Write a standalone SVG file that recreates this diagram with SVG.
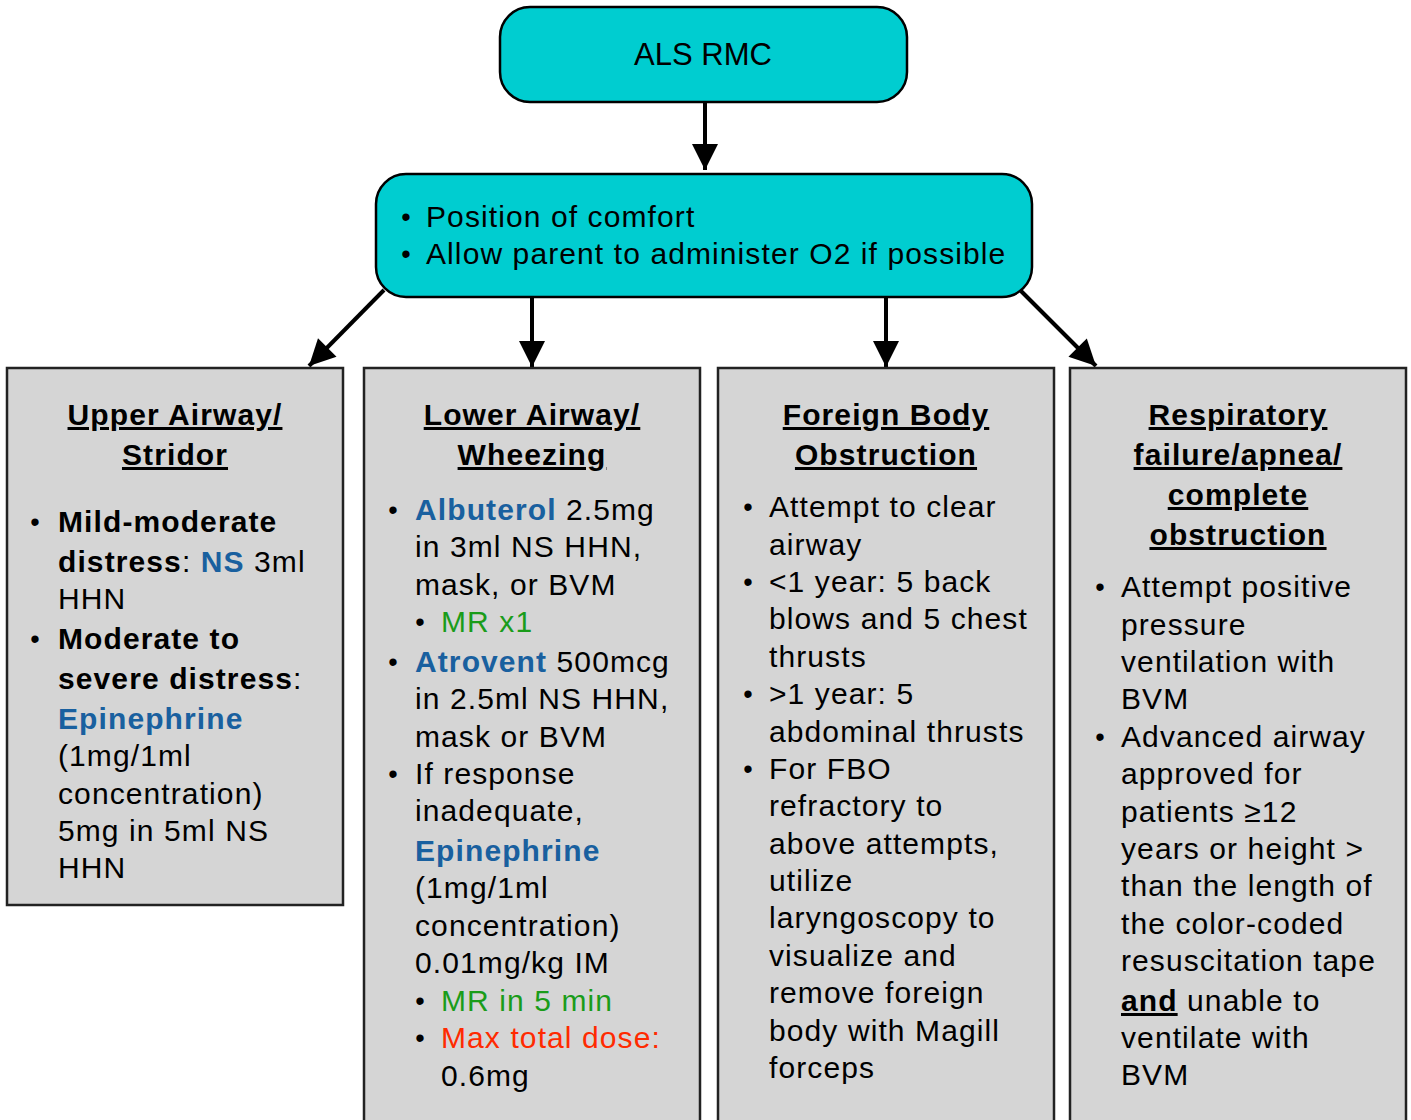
<svg xmlns="http://www.w3.org/2000/svg" width="1411" height="1120" viewBox="0 0 1411 1120">
<style>
text{font-family:"Liberation Sans",Arial,sans-serif;font-size:30px;fill:#000;letter-spacing:1.1px}
.t{font-weight:bold;font-size:30px;text-anchor:middle;text-decoration:underline;letter-spacing:1.1px}
.b{font-weight:bold}
.bl{font-size:27px;text-anchor:middle;letter-spacing:0}
.blue{fill:#19609f;font-weight:bold}
.green{fill:#1a9c1a}
.red{fill:#ff2a00}
.cyan{fill:#00cdd0;stroke:#000;stroke-width:2.5}
.grey{fill:#d5d5d5;stroke:#222;stroke-width:2.5}
.c{stroke:#000;stroke-width:4;fill:none}
</style>
<defs>
<marker id="ah" markerUnits="userSpaceOnUse" markerWidth="30" markerHeight="30" viewBox="0 0 30 30" refX="28" refY="15" orient="auto">
<path d="M2,2 L28,15 L2,28 Z" fill="#000"/>
</marker>
</defs>
<g id="connectors">
<line class="c" x1="705" y1="103" x2="705" y2="170" marker-end="url(#ah)"/>
<line class="c" x1="384" y1="290" x2="309" y2="366" marker-end="url(#ah)"/>
<line class="c" x1="532" y1="298" x2="532" y2="367" marker-end="url(#ah)"/>
<line class="c" x1="886" y1="298" x2="886" y2="367" marker-end="url(#ah)"/>
<line class="c" x1="1021" y1="291" x2="1096" y2="366" marker-end="url(#ah)"/>
</g>
<g id="als-rmc">
<rect class="cyan" x="500" y="7" width="407" height="95" rx="30"/>
<text x="703" y="65" text-anchor="middle" style="font-size:31px;letter-spacing:0">ALS RMC</text>
</g>
<g id="comfort">
<rect class="cyan" x="376" y="174" width="656" height="123" rx="30"/>
<text class="bl" x="406" y="226">•</text>
<text x="426" y="227">Position of comfort</text>
<text class="bl" x="406" y="263">•</text>
<text x="426" y="264">Allow parent to administer O2 if possible</text>
</g>
<g id="upper-airway">
<rect class="grey" x="7" y="368" width="336" height="537"/>
<text class="t" x="175" y="425">Upper Airway/</text>
<text class="t" x="175" y="465">Stridor</text>
<text class="bl" x="35" y="531">•</text>
<text class="b" x="58" y="532">Mild-moderate</text>
<text x="58" y="572"><tspan class="b">distress</tspan>: <tspan class="blue">NS</tspan> 3ml</text>
<text x="58" y="609">HHN</text>
<text class="bl" x="35" y="648">•</text>
<text class="b" x="58" y="649">Moderate to</text>
<text x="58" y="689"><tspan class="b">severe distress</tspan>:</text>
<text class="blue" x="58" y="729">Epinephrine</text>
<text x="58" y="766">(1mg/1ml</text>
<text x="58" y="804">concentration)</text>
<text x="58" y="841">5mg in 5ml NS</text>
<text x="58" y="878">HHN</text>
</g>
<g id="lower-airway">
<rect class="grey" x="364" y="368" width="336" height="800"/>
<text class="t" x="532" y="425">Lower Airway/</text>
<text class="t" x="532" y="465">Wheezing</text>
<text class="bl" x="393" y="519">•</text>
<text x="415" y="520"><tspan class="blue">Albuterol</tspan> 2.5mg</text>
<text x="415" y="557">in 3ml NS HHN,</text>
<text x="415" y="595">mask, or BVM</text>
<text class="bl" x="420" y="631">•</text>
<text class="green" x="441" y="632">MR x1</text>
<text class="bl" x="393" y="671">•</text>
<text x="415" y="672"><tspan class="blue">Atrovent</tspan> 500mcg</text>
<text x="415" y="709">in 2.5ml NS HHN,</text>
<text x="415" y="747">mask or BVM</text>
<text class="bl" x="393" y="783">•</text>
<text x="415" y="784">If response</text>
<text x="415" y="821">inadequate,</text>
<text class="blue" x="415" y="861">Epinephrine</text>
<text x="415" y="898">(1mg/1ml</text>
<text x="415" y="936">concentration)</text>
<text x="415" y="973">0.01mg/kg IM</text>
<text class="bl" x="420" y="1010">•</text>
<text class="green" x="441" y="1011">MR in 5 min</text>
<text class="bl" x="420" y="1047">•</text>
<text class="red" x="441" y="1048">Max total dose:</text>
<text x="441" y="1086">0.6mg</text>
</g>
<g id="foreign-body">
<rect class="grey" x="718" y="368" width="336" height="800"/>
<text class="t" x="886" y="425">Foreign Body</text>
<text class="t" x="886" y="465">Obstruction</text>
<text class="bl" x="748" y="516">•</text>
<text x="769" y="517">Attempt to clear</text>
<text x="769" y="555">airway</text>
<text class="bl" x="748" y="591">•</text>
<text x="769" y="592">&lt;1 year: 5 back</text>
<text x="769" y="629">blows and 5 chest</text>
<text x="769" y="667">thrusts</text>
<text class="bl" x="748" y="703">•</text>
<text x="769" y="704">&gt;1 year: 5</text>
<text x="769" y="742">abdominal thrusts</text>
<text class="bl" x="748" y="778">•</text>
<text x="769" y="779">For FBO</text>
<text x="769" y="816">refractory to</text>
<text x="769" y="854">above attempts,</text>
<text x="769" y="891">utilize</text>
<text x="769" y="928">laryngoscopy to</text>
<text x="769" y="966">visualize and</text>
<text x="769" y="1003">remove foreign</text>
<text x="769" y="1041">body with Magill</text>
<text x="769" y="1078">forceps</text>
</g>
<g id="respiratory-failure">
<rect class="grey" x="1070" y="368" width="336" height="800"/>
<text class="t" x="1238" y="425">Respiratory</text>
<text class="t" x="1238" y="465">failure/apnea/</text>
<text class="t" x="1238" y="505">complete</text>
<text class="t" x="1238" y="545">obstruction</text>
<text class="bl" x="1100" y="596">•</text>
<text x="1121" y="597">Attempt positive</text>
<text x="1121" y="635">pressure</text>
<text x="1121" y="672">ventilation with</text>
<text x="1121" y="709">BVM</text>
<text class="bl" x="1100" y="746">•</text>
<text x="1121" y="747">Advanced airway</text>
<text x="1121" y="784">approved for</text>
<text x="1121" y="822">patients ≥12</text>
<text x="1121" y="859">years or height &gt;</text>
<text x="1121" y="896">than the length of</text>
<text x="1121" y="934">the color-coded</text>
<text x="1121" y="971">resuscitation tape</text>
<text x="1121" y="1011"><tspan class="b" style="text-decoration:underline">and</tspan> unable to</text>
<text x="1121" y="1048">ventilate with</text>
<text x="1121" y="1085">BVM</text>
</g>
</svg>
